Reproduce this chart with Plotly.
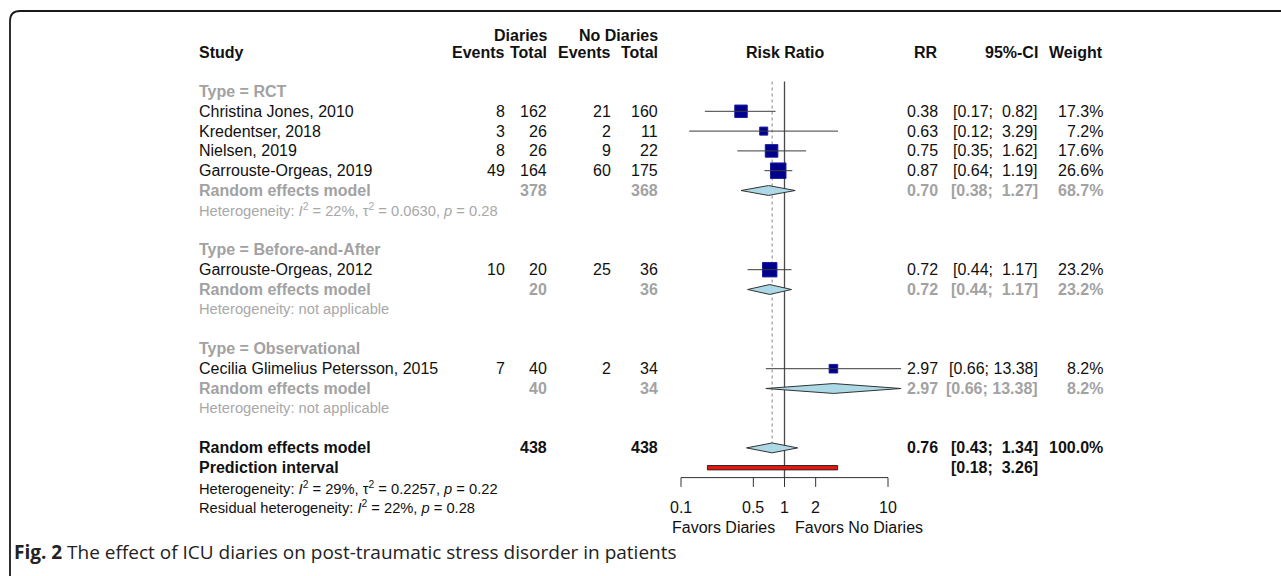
import math
import plotly.graph_objects as go

# ---------------- data ----------------
studies = ["Christina Jones, 2010", "Kredentser, 2018", "Nielsen, 2019",
           "Garrouste-Orgeas, 2019", "Garrouste-Orgeas, 2012",
           "Cecilia Glimelius Petersson, 2015"]
study_type = ["RCT", "RCT", "RCT", "RCT", "Before-and-After", "Observational"]
ev_diaries = [8, 3, 8, 49, 10, 7]
n_diaries = [162, 26, 26, 164, 20, 40]
ev_nodiaries = [21, 2, 9, 60, 25, 2]
n_nodiaries = [160, 11, 22, 175, 36, 34]
rr = [0.38, 0.63, 0.75, 0.87, 0.72, 2.97]
ci_low = [0.17, 0.12, 0.35, 0.64, 0.44, 0.66]
ci_high = [0.82, 3.29, 1.62, 1.19, 1.17, 13.38]
weight = [17.3, 7.2, 17.6, 26.6, 23.2, 8.2]

subgroups = ["RCT", "Before-and-After", "Observational"]
sub_rr = [0.70, 0.72, 2.97]
sub_low = [0.38, 0.44, 0.66]
sub_high = [1.27, 1.17, 13.38]
sub_weight = [68.7, 23.2, 8.2]
sub_n_diaries = [378, 20, 40]
sub_n_nodiaries = [368, 36, 34]
sub_het = ["Heterogeneity: <i>I</i><sup>2</sup> = 22%, τ<sup>2</sup> = 0.0630, <i>p</i> = 0.28",
           "Heterogeneity: not applicable",
           "Heterogeneity: not applicable"]

overall_rr, overall_low, overall_high, overall_weight = 0.76, 0.43, 1.34, 100.0
overall_n_diaries, overall_n_nodiaries = 438, 438
pred_low, pred_high = 0.18, 3.26
overall_het = "Heterogeneity: <i>I</i><sup>2</sup> = 29%, τ<sup>2</sup> = 0.2257, <i>p</i> = 0.22"
resid_het = "Residual heterogeneity: <i>I</i><sup>2</sup> = 22%, <i>p</i> = 0.28"

tick_vals = [0.1, 0.5, 1, 2, 10]
tick_labels = ["0.1", "0.5", "1", "2", "10"]
label_left = "Favors Diaries"
label_right = "Favors No Diaries"
caption_bold = "Fig. 2"
caption_text = "The effect of ICU diaries on post-traumatic stress disorder in patients"

# ---------------- layout constants ----------------
W, H = 1281, 576
ROW0, ROWH = 91.5, 19.8          # pixel y of row 0, row height
X1_PX, PX_DEC = 784.5, 103.5     # pixel x of RR=1, pixels per decade
FONT = "Liberation Sans, Arial, sans-serif"
FS, FS_SMALL = 16, 14.7
BLACK, GRAY, LGRAY = "#111111", "#a2a2a2", "#a8a8a8"

X_STUDY, X_EV1, X_N1, X_EV2, X_N2 = 197, 507, 549, 613, 660
X_RR, X_CI, X_W = 940, 1040, 1105

fig = go.Figure()
ann = []


def lg(v):
    return math.log10(v)


def txt(xpx, r, s, anchor="left", color=BLACK, bold=False, size=FS, font=FONT):
    if bold:
        s = "<b>" + s + "</b>"
    ann.append(dict(x=xpx / W, xref="paper", y=r, yref="y", text=s, showarrow=False,
                    xanchor=anchor, yanchor="middle",
                    font=dict(family=font, size=size, color=color)))


def fmt_ci(lo, hi):
    a = f"{lo:.2f}".rjust(4)
    b = f"{hi:.2f}".rjust(5)
    return ("[" + a + "; " + b + "]").replace(" ", "\u00a0")


# ---------------- rows ----------------
sq_x, sq_y, sq_size = [], [], []
ci_x, ci_y = [], []
dia = []   # (est, lo, hi, row)
r = 0
for g, gname in enumerate(subgroups):
    txt(X_STUDY, r, "Type = " + gname, color=GRAY, bold=True)
    r += 1
    for i, t in enumerate(study_type):
        if t != gname:
            continue
        txt(X_STUDY, r, studies[i])
        txt(X_EV1, r, str(ev_diaries[i]), "right")
        txt(X_N1, r, str(n_diaries[i]), "right")
        txt(X_EV2, r, str(ev_nodiaries[i]), "right")
        txt(X_N2, r, str(n_nodiaries[i]), "right")
        txt(X_RR, r, f"{rr[i]:.2f}", "right")
        txt(X_CI, r, fmt_ci(ci_low[i], ci_high[i]), "right")
        txt(X_W, r, f"{weight[i]:.1f}%", "right")
        sq_x.append(rr[i]); sq_y.append(r); sq_size.append(3.0 * math.sqrt(weight[i]))
        ci_x += [ci_low[i], ci_high[i], None]; ci_y += [r, r, None]
        r += 1
    txt(X_STUDY, r, "Random effects model", color=GRAY, bold=True)
    txt(X_N1, r, str(sub_n_diaries[g]), "right", color=GRAY, bold=True)
    txt(X_N2, r, str(sub_n_nodiaries[g]), "right", color=GRAY, bold=True)
    txt(X_RR, r, f"{sub_rr[g]:.2f}", "right", color=GRAY, bold=True)
    txt(X_CI, r, fmt_ci(sub_low[g], sub_high[g]), "right", color=GRAY, bold=True)
    txt(X_W, r, f"{sub_weight[g]:.1f}%", "right", color=GRAY, bold=True)
    dia.append((sub_rr[g], sub_low[g], sub_high[g], r))
    r += 1
    txt(X_STUDY, r, sub_het[g], color=LGRAY, size=FS_SMALL)
    r += 2

r_overall = r
txt(X_STUDY, r, "Random effects model", bold=True)
txt(X_N1, r, str(overall_n_diaries), "right", bold=True)
txt(X_N2, r, str(overall_n_nodiaries), "right", bold=True)
txt(X_RR, r, f"{overall_rr:.2f}", "right", bold=True)
txt(X_CI, r, fmt_ci(overall_low, overall_high), "right", bold=True)
txt(X_W, r, f"{overall_weight:.1f}%", "right", bold=True)
dia.append((overall_rr, overall_low, overall_high, r))
r_pred = r + 1
txt(X_STUDY, r_pred, "Prediction interval", bold=True)
txt(X_CI, r_pred, fmt_ci(pred_low, pred_high), "right", bold=True)
txt(X_STUDY, r + 2, overall_het, size=FS_SMALL)
txt(X_STUDY, r + 3, resid_het, size=FS_SMALL)

# headers
r_h1, r_h2 = -2.85, -1.95
txt(X_STUDY, r_h2, "Study", bold=True)
txt(X_N1, r_h1, "Diaries", "right", bold=True)
txt(X_N2, r_h1, "No Diaries", "right", bold=True)
txt(X_EV1, r_h2, "Events", "right", bold=True)
txt(X_N1, r_h2, "Total", "right", bold=True)
txt(X_EV2, r_h2, "Events", "right", bold=True)
txt(X_N2, r_h2, "Total", "right", bold=True)
ann.append(dict(x=lg(1), xref="x", y=r_h2, yref="y", text="<b>Risk Ratio</b>", showarrow=False,
                xanchor="center", yanchor="middle", font=dict(family=FONT, size=FS, color=BLACK)))
txt(X_RR, r_h2, "RR", "right", bold=True)
txt(X_CI, r_h2, "95%-CI", "right", bold=True)
txt(X_W, r_h2, "Weight", "right", bold=True)

# ---------------- forest graphics ----------------
r_axis = r_pred + 0.5
r_top = -0.5
LINE = "#3c3c3c"

# reference line at 1 and dotted overall line
fig.add_trace(go.Scatter(x=[1, 1], y=[r_top, r_axis], mode="lines",
                         line=dict(color="#4a4a4a", width=1.3), hoverinfo="skip"))
fig.add_trace(go.Scatter(x=[overall_rr, overall_rr], y=[r_top, r_overall - 0.25], mode="lines",
                         line=dict(color="#9a9a9a", width=1.2, dash="dot"), hoverinfo="skip"))

# squares
fig.add_trace(go.Scatter(x=sq_x, y=sq_y, mode="markers",
                         marker=dict(symbol="square", size=sq_size, color="#00008b", opacity=1,
                                     line=dict(color="#1c1ca0", width=1)),
                         hoverinfo="skip"))
# CI lines
fig.add_trace(go.Scatter(x=ci_x, y=ci_y, mode="lines", line=dict(color=LINE, width=1),
                         hoverinfo="skip"))

# diamonds
DH = 0.25
for est, lo, hi, rr_row in dia:
    fig.add_trace(go.Scatter(x=[lo, est, hi, est, lo], y=[rr_row, rr_row - DH, rr_row, rr_row + DH, rr_row],
                             mode="lines", fill="toself", fillcolor="#add8e6",
                             line=dict(color="#333333", width=1), hoverinfo="skip"))

# prediction interval bar
PH = 0.11
fig.add_trace(go.Scatter(x=[pred_low, pred_high, pred_high, pred_low, pred_low],
                         y=[r_pred - PH, r_pred - PH, r_pred + PH, r_pred + PH, r_pred - PH],
                         mode="lines", fill="toself", fillcolor="#e8160c",
                         line=dict(color="#2a2a2a", width=1), hoverinfo="skip"))

# axis line and ticks
ax_x = [tick_vals[0], tick_vals[-1], None]
ax_y = [r_axis, r_axis, None]
for v in tick_vals:
    ax_x += [v, v, None]
    ax_y += [r_axis, r_axis + 0.47, None]
fig.add_trace(go.Scatter(x=ax_x, y=ax_y, mode="lines", line=dict(color="#333333", width=1),
                         hoverinfo="skip"))
r_ticklab = r_axis + 1.53
for v, lab in zip(tick_vals, tick_labels):
    ann.append(dict(x=lg(v), xref="x", y=r_ticklab, yref="y", text=lab, showarrow=False,
                    xanchor="center", yanchor="middle", font=dict(family=FONT, size=FS, color=BLACK)))
r_fav = r_axis + 2.5
ann.append(dict(x=lg(1), xref="x", y=r_fav, yref="y", text=label_left, showarrow=False, xshift=-8,
                xanchor="right", yanchor="middle", font=dict(family=FONT, size=FS, color=BLACK)))
ann.append(dict(x=lg(1), xref="x", y=r_fav, yref="y", text=label_right, showarrow=False, xshift=8,
                xanchor="left", yanchor="middle", font=dict(family=FONT, size=FS, color=BLACK)))

# caption
ann.append(dict(x=12 / W, xref="paper", y=(552 - ROW0) / ROWH, yref="y",
                text="<b>" + caption_bold + "</b> " + caption_text, showarrow=False,
                xanchor="left", yanchor="middle",
                font=dict(family="Open Sans, Noto Sans, sans-serif", size=19, color="#222222")))


# frame (rounded top-left corner)
def px(x):
    return x / W


def py(y):
    return 1 - y / H


frame = (f"M {px(10)},{py(580)} L {px(10)},{py(21)} Q {px(10)},{py(11)} {px(20)},{py(11)} "
         f"L {px(1285)},{py(11)}")

fig.update_layout(
    width=W, height=H, margin=dict(l=0, r=0, t=0, b=0),
    paper_bgcolor="white", plot_bgcolor="white", showlegend=False,
    xaxis=dict(type="log", range=[-X1_PX / PX_DEC, (W - X1_PX) / PX_DEC], visible=False, domain=[0, 1]),
    yaxis=dict(range=[(H - ROW0) / ROWH, -ROW0 / ROWH], visible=False, domain=[0, 1]),
    annotations=ann,
    shapes=[dict(type="path", path=frame, xref="paper", yref="paper",
                 line=dict(color="#1a1a1a", width=1.8))],
)

fig.write_html("out.html", config={"displayModeBar": False, "staticPlot": True},
               post_script="document.body.style.margin='0';document.body.style.overflow='hidden';")
